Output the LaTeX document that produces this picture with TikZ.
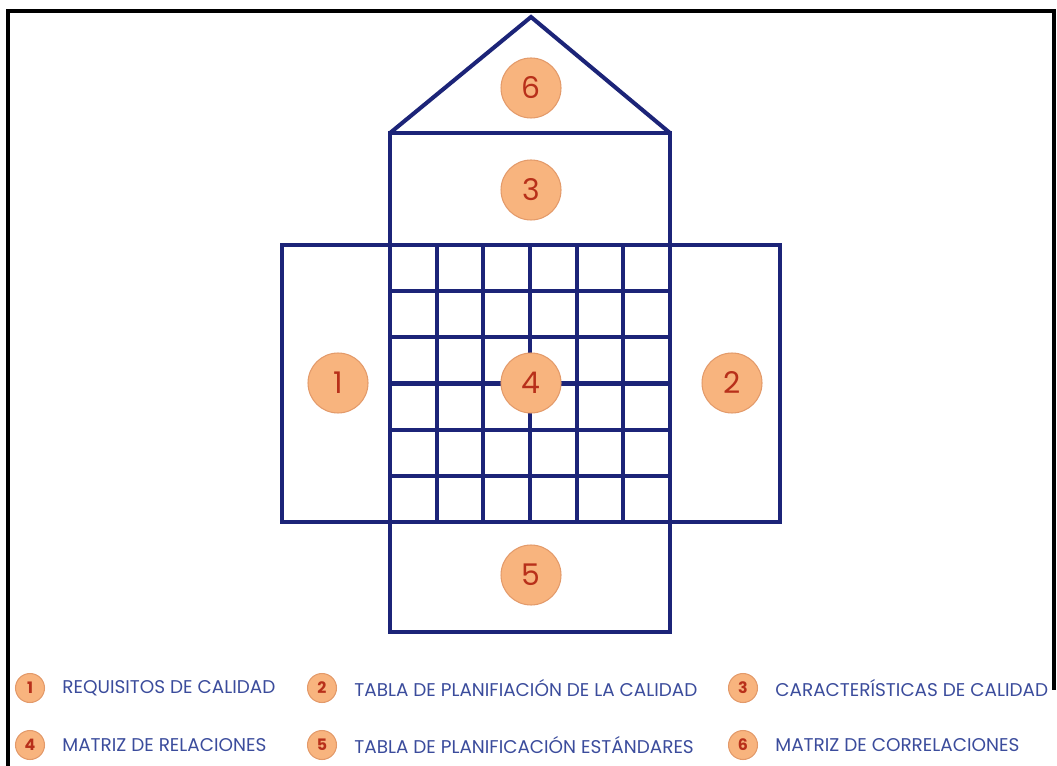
\documentclass[tikz,border=0pt]{standalone}
\usepackage{fontspec}
\setmainfont{Poppins}
\usetikzlibrary{positioning}
\definecolor{qfdblue}{HTML}{1C2478}
\definecolor{badgefill}{HTML}{F8B47E}
\definecolor{badgeline}{HTML}{E39A6A}
\definecolor{badgetext}{HTML}{B8301A}
\definecolor{legendtext}{HTML}{3B4C9C}

\begin{document}
\begin{tikzpicture}[
    x=0.02cm, y=-0.02cm,
    frame/.style={line width=1.8pt, black},
    house/.style={line width=2.3pt, qfdblue},
    badge/.style={circle, fill=badgefill, draw=badgeline, line width=0.6pt, minimum size=1.2cm, inner sep=0pt, text=badgetext, font=\fontsize{17}{17}\selectfont},
    smallbadge/.style={badge, minimum size=0.58cm, font=\fontsize{9}{9}\selectfont\bfseries},
    legend/.style={inner sep=0pt, text=legendtext, font=\fontsize{10.5}{11}\selectfont}
]
    \useasboundingbox (0,0) rectangle (1057,766);
    \draw[frame] (8,770) -- (8,11) -- (1054,11) -- (1054,690);

    % roof and rooms
    \draw[house] (390,133) -- (531,17) -- (670,133);
    \draw[house] (390,133) rectangle (670,245);
    \draw[house] (282,245) rectangle (780,522);
    \draw[house] (390,245) rectangle (670,522);
    \draw[house] (390,522) rectangle (670,632);
    \foreach \i in {1,...,5} {
        \draw[house] ({390+\i*280/6},245) -- ({390+\i*280/6},522);
        \draw[house] (390,{245+\i*277/6}) -- (670,{245+\i*277/6});
    }

    \node[badge] (n6) at (531,88) {6};
    \node[badge] (n3) at (531,190) {3};
    \node[badge] (n1) at (338,383) {1};
    \node[badge] (n4) at (531,383) {4};
    \node[badge] (n2) at (732,383) {2};
    \node[badge] (n5) at (531,575) {5};

    % legend
    \node[smallbadge] (l1) at (30,688) {1};
    \node[smallbadge] (l2) at (322,688) {2};
    \node[smallbadge] (l3) at (743,688) {3};
    \node[smallbadge] (l4) at (30,745) {4};
    \node[smallbadge] (l5) at (322,745) {5};
    \node[smallbadge] (l6) at (743,745) {6};
    \node[legend, right=0.34cm of l1] (t1) {REQUISITOS DE CALIDAD};
    \node[legend, right=0.34cm of l2] (t2) {TABLA DE PLANIFIACIÓN DE LA CALIDAD};
    \node[legend, right=0.34cm of l3] (t3) {CARACTERÍSTICAS DE CALIDAD};
    \node[legend, right=0.34cm of l4] (t4) {MATRIZ DE RELACIONES};
    \node[legend, right=0.34cm of l5] (t5) {TABLA DE PLANIFICACIÓN ESTÁNDARES};
    \node[legend, right=0.34cm of l6] (t6) {MATRIZ DE CORRELACIONES};
\end{tikzpicture}
\end{document}
